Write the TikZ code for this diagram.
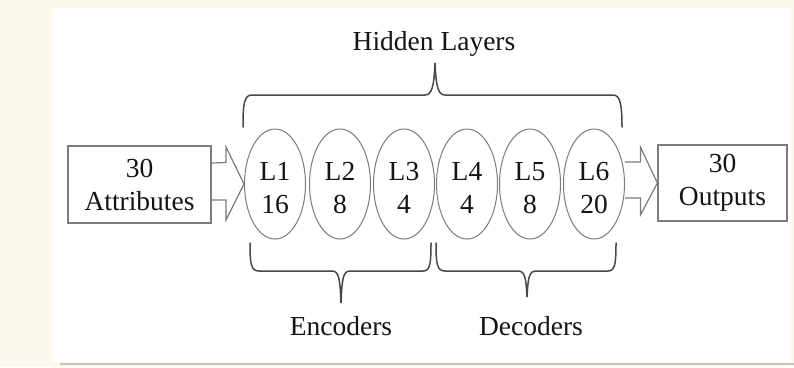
\documentclass[tikz,border=0pt]{standalone}
\usepackage{fontspec}
\setmainfont{Liberation Serif}
\usetikzlibrary{shapes.geometric,calc}
\definecolor{cream}{HTML}{FDF8EE}
\definecolor{edgegray}{HTML}{7C7C7C}
\definecolor{bracegray}{HTML}{484848}
\definecolor{txt}{HTML}{141414}
\tikzset{
  lbl/.style={font=\fontsize{27.5}{33}\selectfont, text=txt, align=center},
  layer/.style={ellipse, draw=edgegray, line width=1pt, minimum width=61pt, minimum height=110pt, inner sep=0pt, lbl},
  iobox/.style={rectangle, draw=edgegray, line width=1.2pt, inner sep=0pt, lbl},
  blockarrow/.style={draw=edgegray, line width=1.2pt, line join=miter},
  bracel/.style={draw=bracegray, line width=1.5pt, line cap=round}
}
\newcommand{\lyrtxt}[2]{\rule{0pt}{26.5pt}#1\\#2}
\begin{document}
\begin{tikzpicture}[x=1pt,y=-1pt]
\useasboundingbox (0,0) rectangle (794,367);
\fill[cream] (0,0) rectangle (794,367);
\fill[white] (53,8) rectangle (791,362);
\draw[color={rgb,255:red,200;green,196;blue,188}, line width=2pt] (60,364) -- (794,364);

\node[iobox, minimum width=143pt, minimum height=77pt] (att) at (139.5,184.5) {30\\Attributes};
\node[iobox, minimum width=129pt, minimum height=76pt] (out) at (722.5,183) {30\\Outputs};

\node[layer] (L1) at (275,184) {\lyrtxt{L1}{16}};
\node[layer] (L2) at (340,184) {\lyrtxt{L2}{8}};
\node[layer] (L3) at (404,184) {\lyrtxt{L3}{4}};
\node[layer] (L4) at (467,184) {\lyrtxt{L4}{4}};
\node[layer] (L5) at (530,184) {\lyrtxt{L5}{8}};
\node[layer] (L6) at (594,184) {\lyrtxt{L6}{20}};

% input block arrow
\draw[blockarrow] ($(att.east)+(0,-21.5)$) -- ($(L1.west)+(-18,-21.5)$) -- ($(L1.west)+(-18,-37)$) -- (L1.west) -- ($(L1.west)+(-18,36)$) -- ($(L1.west)+(-18,16)$) -- ($(att.east)+(0,15.5)$);
% output block arrow
\draw[blockarrow] ($(L6.east)+(0,-22)$) -- ($(out.west)+(-17,-21)$) -- ($(out.west)+(-17,-36)$) -- (out.west) -- ($(out.west)+(-17,32)$) -- ($(out.west)+(-17,15)$) -- ($(L6.east)+(0,14)$);

% top brace
\coordinate (tb) at (435,63);
\draw[bracel] (243,127) .. controls (243,104) and (244,95) .. (252,95) -- (425,95) .. controls (432,95) and (434,86) .. (tb) .. controls (436,86) and (438,95) .. (445,95) -- (613,95) .. controls (620,95) and (622,104) .. (622,127);
\node[lbl] (hid) at (434,44) {Hidden Layers};

% encoder brace
\coordinate (eb) at (341,303);
\draw[bracel] (250,243) .. controls (250,264) and (251,271) .. (259,271) -- (332,271) .. controls (339,271) and (340,279) .. (eb) .. controls (342,279) and (343,271) .. (350,271) -- (423,271) .. controls (430,271) and (431,264) .. (431,243);
\node[lbl] (enc) at (341,326) {Encoders};

% decoder brace
\coordinate (db) at (527,297);
\draw[bracel] (436,243) .. controls (436,264) and (437,271) .. (445,271) -- (518,271) .. controls (525,271) and (526,278) .. (db) .. controls (528,278) and (529,271) .. (536,271) -- (608,271) .. controls (615,271) and (616,264) .. (616,243);
\node[lbl] (dec) at (531,326) {Decoders};
\end{tikzpicture}
\end{document}
